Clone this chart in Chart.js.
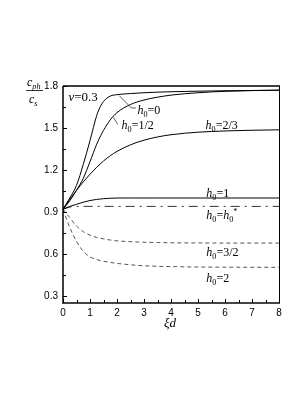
<!DOCTYPE html>
<html>
<head>
<meta charset="utf-8">
<script src="https://cdn.jsdelivr.net/npm/chart.js@4"></script>
<style>
  html, body { margin: 0; padding: 0; background: #fff; }
  canvas { display: block; }
</style>
</head>
<body>
<canvas id="chart" width="306" height="396"></canvas>
<script>
// data
const xValues = [0, 0.25, 0.5, 0.75, 1, 1.25, 1.4, 1.5, 1.75, 2, 2.5, 3, 3.5, 4, 5, 6, 7, 8];

const h0_0   = [0.92, 1.00, 1.09, 1.24, 1.41, 1.59, 1.66, 1.69, 1.728, 1.738, 1.746, 1.752, 1.756, 1.759, 1.763, 1.766, 1.768, 1.77];
const h0_1_2 = [0.92, 0.98, 1.055, 1.14, 1.26, 1.385, 1.447, 1.483, 1.558, 1.61, 1.668, 1.70, 1.72, 1.735, 1.752, 1.762, 1.767, 1.77];
const h0_2_3 = [0.92, 0.99, 1.055, 1.115, 1.17, 1.22, 1.247, 1.264, 1.302, 1.333, 1.38, 1.413, 1.436, 1.452, 1.47, 1.479, 1.484, 1.487];
const h0_1   = [0.92, 0.94, 0.955, 0.97, 0.982, 0.99, 0.993, 0.995, 0.998, 1.0, 1.0, 1.0, 1.0, 1.0, 1.0, 1.0, 1.0, 1.0];
const h0_star= [0.92, 0.935, 0.94, 0.94, 0.94, 0.94, 0.94, 0.94, 0.94, 0.94, 0.94, 0.94, 0.94, 0.94, 0.94, 0.94, 0.94, 0.94];
const h0_3_2 = [0.92, 0.86, 0.80, 0.76, 0.735, 0.718, 0.712, 0.708, 0.70, 0.694, 0.688, 0.684, 0.682, 0.68, 0.679, 0.678, 0.678, 0.678];
const h0_2   = [0.92, 0.79, 0.69, 0.62, 0.58, 0.56, 0.552, 0.548, 0.54, 0.533, 0.523, 0.516, 0.512, 0.51, 0.507, 0.506, 0.505, 0.505];

const xTicks = [0, 1, 2, 3, 4, 5, 6, 7, 8];
const xMinorTicks = [0.5, 1.5, 2.5, 3.5, 4.5, 5.5, 6.5, 7.5];
const yTicks = [0.3, 0.6, 0.9, 1.2, 1.5, 1.8];
const yMinorTicks = [0.45, 0.75, 1.05, 1.35, 1.65];

const serif = '"Liberation Serif", "DejaVu Serif", serif';
const sans = '"Liberation Sans", Arial, sans-serif';

function pts(ys) {
  return xValues.map((x, i) => ({ x: x, y: ys[i] }));
}

function series(ys, color, dash) {
  return {
    data: pts(ys),
    borderColor: color,
    borderWidth: 1,
    borderDash: dash || [],
    pointRadius: 0,
    cubicInterpolationMode: 'monotone',
    fill: false
  };
}

// draws a run of text pieces: [text, kind] kind = r / i / sub / subi / sup
function rich(ctx, x, y, parts, size) {
  let cx = x;
  parts.forEach(([t, kind]) => {
    let sz = size, dy = 0, style = '';
    if (kind === 'i' || kind === 'subi') style = 'italic ';
    if (kind === 'sub' || kind === 'subi') { sz = size * 0.68; dy = size * 0.25; }
    if (kind === 'sup') { sz = size * 0.68; dy = -size * 0.4; }
    ctx.font = style + sz + 'px ' + serif;
    ctx.fillText(t, cx, y + dy);
    cx += ctx.measureText(t).width;
  });
}

const h = (rest) => [['h', 'i'], ['0', 'sub'], ['=' + rest, 'r']];

const decor = {
  id: 'decor',
  afterDraw(chart) {
    const ctx = chart.ctx;
    const a = chart.chartArea;
    const xs = chart.scales.x, ys = chart.scales.y;
    const px = v => xs.getPixelForValue(v);
    const py = v => ys.getPixelForValue(v);
    ctx.save();

    // frame
    ctx.strokeStyle = '#000';
    ctx.lineWidth = 1;
    ctx.beginPath();
    ctx.moveTo(a.right + 0.5, a.top); ctx.lineTo(a.right + 0.5, a.bottom);
    ctx.stroke();
    ctx.lineWidth = 1.5;
    ctx.beginPath();
    ctx.moveTo(a.left, a.top); ctx.lineTo(a.right + 1, a.top);
    ctx.moveTo(a.left, a.top); ctx.lineTo(a.left, a.bottom);
    ctx.stroke();
    ctx.strokeStyle = '#444';
    ctx.lineWidth = 2;
    ctx.beginPath();
    ctx.moveTo(a.left - 1, a.bottom); ctx.lineTo(a.right + 1, a.bottom);
    ctx.stroke();

    // inward ticks
    ctx.strokeStyle = '#000';
    ctx.lineWidth = 1;
    ctx.beginPath();
    yTicks.forEach(v => { const y = Math.round(py(v)) + 0.5; ctx.moveTo(a.left, y); ctx.lineTo(a.left + 4, y); });
    yMinorTicks.forEach(v => { const y = Math.round(py(v)) + 0.5; ctx.moveTo(a.left, y); ctx.lineTo(a.left + 3, y); });
    xTicks.forEach(v => { const x = Math.round(px(v)) + 0.5; ctx.moveTo(x, a.bottom); ctx.lineTo(x, a.bottom - 4); });
    xMinorTicks.forEach(v => { const x = Math.round(px(v)) + 0.5; ctx.moveTo(x, a.bottom); ctx.lineTo(x, a.bottom - 3); });
    ctx.stroke();

    // leader lines
    ctx.lineWidth = 0.8;
    ctx.strokeStyle = '#333';
    ctx.beginPath();
    ctx.moveTo(px(2.09), py(1.73)); ctx.lineTo(px(2.53), py(1.643)); ctx.lineTo(px(2.7), py(1.643));
    ctx.moveTo(px(1.87), py(1.575)); ctx.lineTo(px(2.03), py(1.525));
    ctx.stroke();

    // curve labels
    ctx.fillStyle = '#000';
    ctx.textBaseline = 'alphabetic';
    ctx.textAlign = 'left';
    rich(ctx, px(0.2), py(1.696), [['ν', 'i'], ['=0.3', 'r']], 13);
    rich(ctx, px(2.76), py(1.603), h('0'), 12);
    rich(ctx, px(2.17), py(1.495), h('1/2'), 12);
    rich(ctx, px(5.28), py(1.495), h('2/3'), 12);
    rich(ctx, px(5.31), py(1.007), h('1'), 12);
    rich(ctx, px(5.31), py(0.849), [['h', 'i'], ['0', 'sub'], ['=', 'r'], ['h', 'i'], ['0', 'sub'], ['*', 'sup']], 12);
    rich(ctx, px(5.31), py(0.583), h('3/2'), 12);
    rich(ctx, px(5.31), py(0.397), h('2'), 12);

    // y axis title: c_ph / c_s
    rich(ctx, 27, 86, [['c', 'i'], ['ph', 'subi']], 12);
    ctx.lineWidth = 0.8;
    ctx.strokeStyle = '#000';
    ctx.beginPath();
    ctx.moveTo(26, 90.5); ctx.lineTo(43, 90.5);
    ctx.stroke();
    rich(ctx, 29, 103, [['c', 'i'], ['s', 'subi']], 12);

    // x axis title
    rich(ctx, 164, 327, [['ξ', 'i'], ['d', 'i']], 13);

    ctx.restore();
  }
};

const tickFont = { family: sans, size: 10 };

new Chart(document.getElementById('chart').getContext('2d'), {
  type: 'line',
  data: {
    datasets: [
      series(h0_0, '#000'),
      series(h0_1_2, '#000'),
      series(h0_2_3, '#000'),
      series(h0_1, '#000'),
      series(h0_star, '#333', [9, 5, 2, 5]),
      series(h0_3_2, '#555', [4, 3]),
      series(h0_2, '#555', [4, 3])
    ]
  },
  options: {
    responsive: false,
    animation: false,
    layout: { padding: { top: 86, right: 27, left: 0, bottom: 0 } },
    plugins: { legend: { display: false }, tooltip: { enabled: false } },
    scales: {
      x: {
        type: 'linear',
        min: 0,
        max: 8,
        ticks: { stepSize: 1, color: '#000', font: tickFont, padding: 4, maxRotation: 0 },
        grid: { display: false, drawTicks: false },
        border: { display: false },
        afterBuildTicks: s => { s.ticks = xTicks.map(v => ({ value: v })); },
        afterFit: s => { s.height = 93; }
      },
      y: {
        type: 'linear',
        min: 0.25,
        max: 1.8,
        ticks: { color: '#000', font: tickFont, padding: 5, callback: v => v.toFixed(1) },
        grid: { display: false, drawTicks: false },
        border: { display: false },
        afterBuildTicks: s => { s.ticks = yTicks.map(v => ({ value: v })); },
        afterFit: s => { s.width = 63; }
      }
    }
  },
  plugins: [decor]
});
</script>
</body>
</html>
